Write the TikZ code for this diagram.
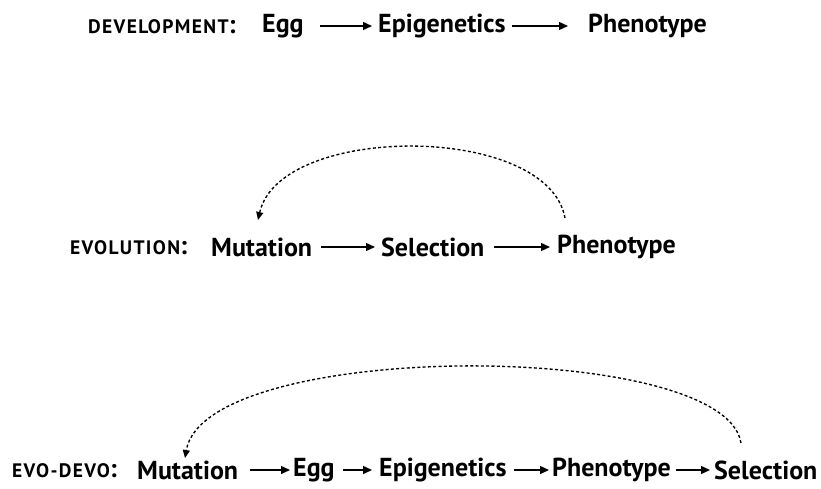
\documentclass[tikz,border=0pt]{standalone}
\usepackage{fontspec}
\setmainfont{PT Sans}
\usetikzlibrary{arrows.meta}
\newcommand{\bigcolon}{\fontsize{26}{28}\selectfont\addfontfeatures{LetterSpace=0}:}
\tikzset{
  term/.style={font=\bfseries\fontsize{26}{28}\selectfont, inner sep=0pt, anchor=west},
  lab/.style={font=\bfseries\fontsize{19.5}{20}\selectfont\addfontfeatures{LetterSpace=7}, inner sep=0pt, anchor=west},
  flow/.style={-{Triangle[length=9pt,width=8pt]}, line width=1.4pt},
  loop/.style={-{Triangle[length=8pt,width=7pt]}, line width=1.35pt, dash pattern=on 3pt off 2.3pt}
}
\begin{document}
\begin{tikzpicture}[x=1pt,y=-1pt]
\useasboundingbox (0,0) rectangle (821,489);
% row 1
\node[lab]  (l1) at (88,27) {DEVELOPMENT\bigcolon};
\node[term] (e1) at (262,26) {Egg};
\node[term] (g1) at (378,26) {Epigenetics};
\node[term] (p1) at (588,26) {Phenotype};
\draw[flow,shorten <=16pt,shorten >=6pt] (e1.east) -- (g1.west);
\draw[flow,shorten <=6pt,shorten >=20pt] (g1.east) -- (p1.west);
% row 2
\node[lab]  (l2) at (70,248) {EVOLUTION\bigcolon};
\node[term] (m2) at (211,247) {Mutation};
\node[term] (s2) at (381,247) {Selection};
\node[term] (p2) at (557,247) {Phenotype};
\draw[flow,shorten <=9pt,shorten >=6pt] (m2.east) -- (s2.west);
\draw[flow,shorten <=9pt,shorten >=7pt] (s2.east) -- (p2.west);
\coordinate (a2s) at (565,218);
\coordinate (a2e) at (258,220);
\draw[loop] (a2s) .. controls (548,123) and (280,123) .. (a2e);
% row 3
\node[lab]  (l3) at (12,471) {EVO-DEVO\bigcolon};
\node[term] (m3) at (137,470) {Mutation};
\node[term] (e3) at (293,470) {Egg};
\node[term] (g3) at (379,470) {Epigenetics};
\node[term] (p3) at (552,470) {Phenotype};
\node[term] (s3) at (714,470) {Selection};
\draw[flow,shorten <=12pt,shorten >=3pt] (m3.east) -- (e3.west);
\draw[flow,shorten <=8pt,shorten >=7pt] (e3.east) -- (g3.west);
\draw[flow,shorten <=7pt,shorten >=3pt] (g3.east) -- (p3.west);
\draw[flow,shorten <=5pt,shorten >=4pt] (p3.east) -- (s3.west);
\coordinate (a3s) at (741,443);
\coordinate (a3e) at (185,458);
\draw[loop] (a3s) .. controls (725,339) and (205,339) .. (a3e);
\end{tikzpicture}
\end{document}
